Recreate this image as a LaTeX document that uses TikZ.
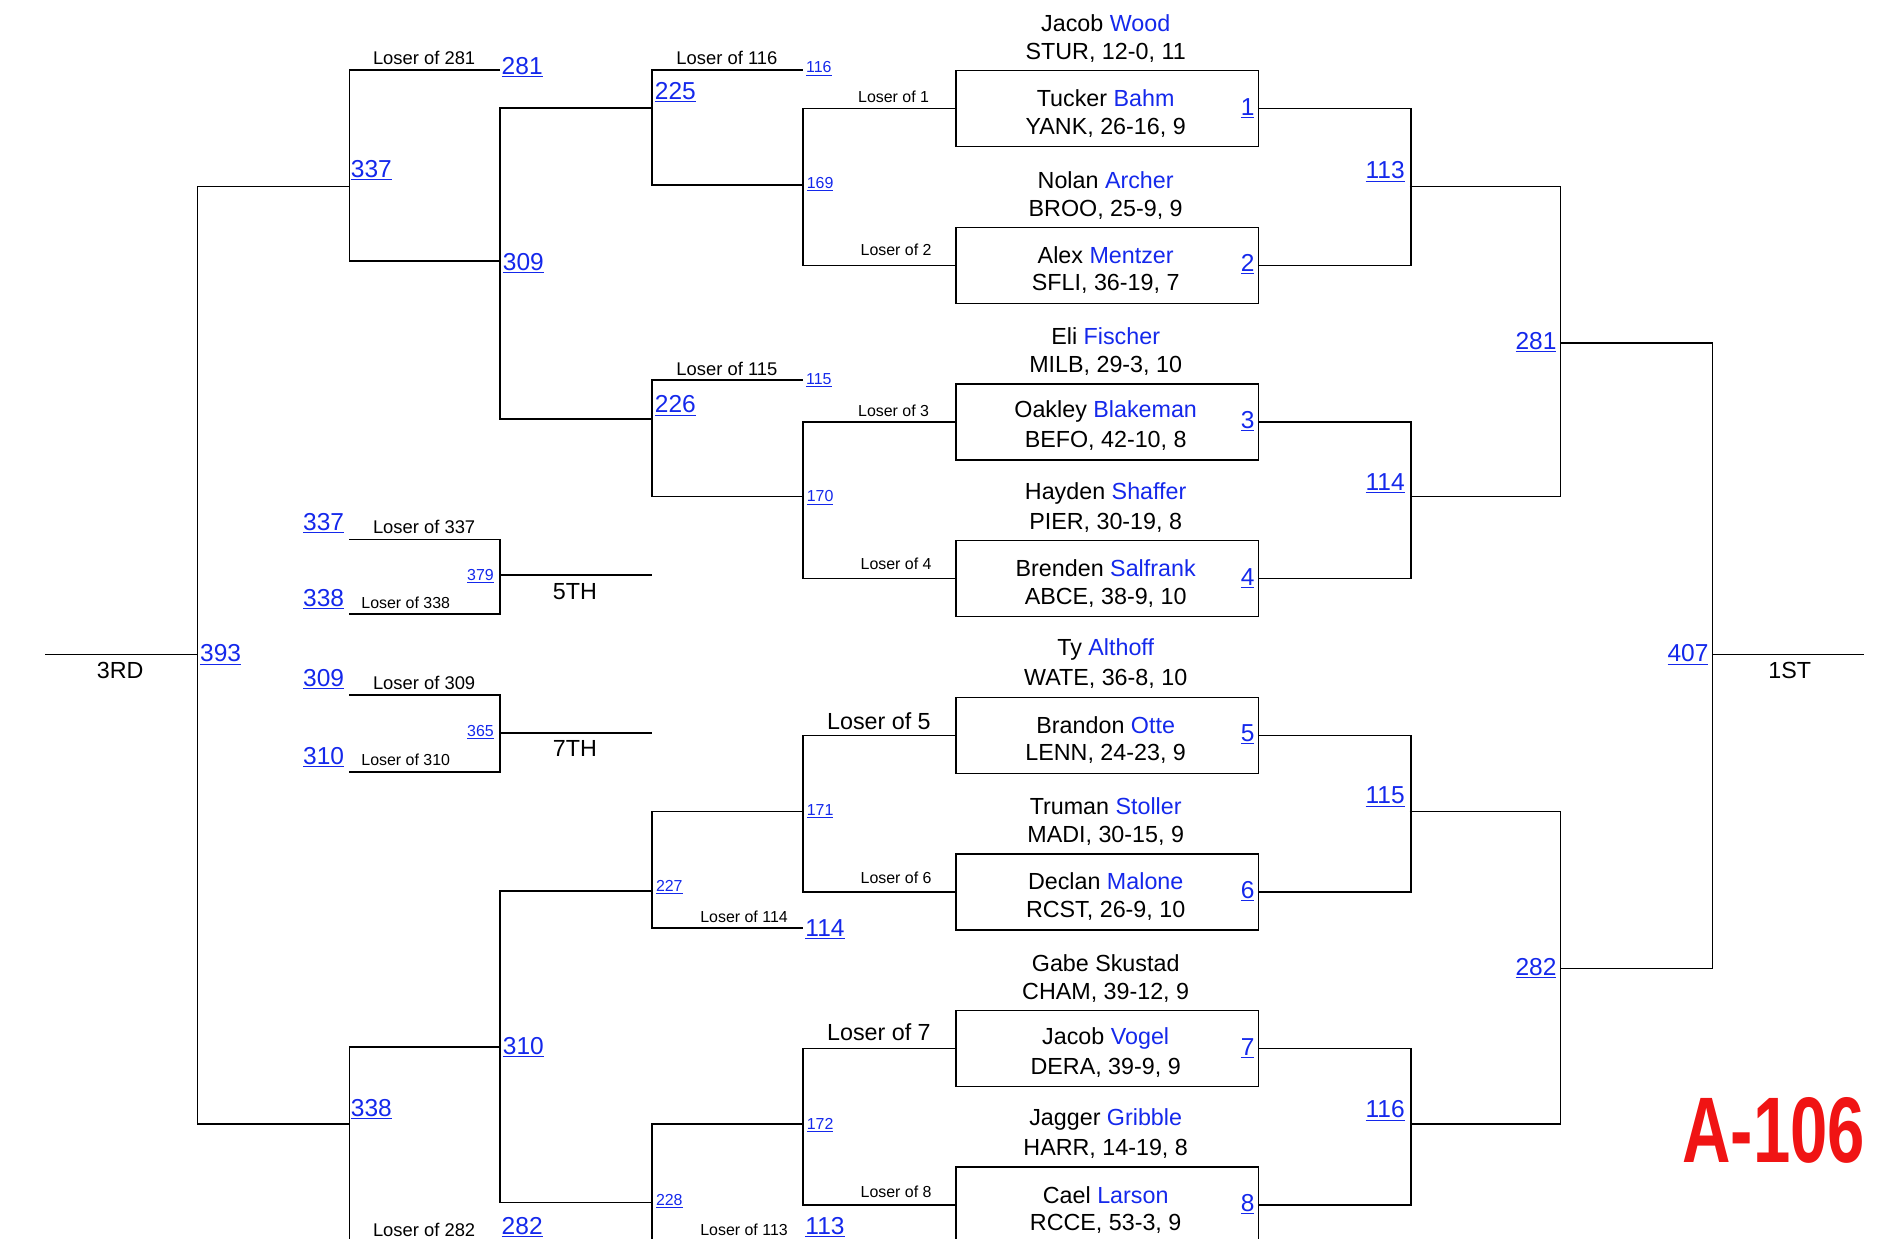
\documentclass[tikz,border=0pt]{standalone}
\usepackage{fontspec}
\setmainfont{Liberation Sans}
\definecolor{linkblue}{RGB}{20,40,235}
\definecolor{tagred}{RGB}{240,20,20}
\newcommand{\lname}[1]{\textcolor{linkblue}{#1}}
\newcommand{\bnum}[1]{\textcolor{linkblue}{\underline{#1}}}
\begin{document}
\begin{tikzpicture}[x=1pt, y=-1pt, line width=1.3pt]
		\tikzset{wrestler/.style={draw=black, line width=1.3pt, minimum width=247pt, minimum height=62pt, anchor=north west, inner sep=0pt}}
		\tikzset{wname/.style={font=\fontsize{19}{21}\selectfont, inner sep=0pt}}
		\tikzset{loser/.style={font=\fontsize{15}{17}\selectfont, inner sep=0pt}}
		\tikzset{loserS/.style={font=\fontsize{13}{15}\selectfont, inner sep=0pt}}
		\tikzset{numL/.style={font=\fontsize{20}{22}\selectfont, inner sep=0pt}}
		\tikzset{numS/.style={font=\fontsize{13}{15}\selectfont, inner sep=0pt}}
		\tikzset{placelbl/.style={font=\fontsize{19}{21}\selectfont, inner sep=0pt}}
		\useasboundingbox (0,0) rectangle (1550,1010);
		%-------------------------------------------------------
		% wrestlers
		\foreach \k/\an/\at/\bn/\bt in {
			1/{Jacob \lname{Wood}}/{STUR, 12-0, 11}/{Tucker \lname{Bahm}}/{YANK, 26-16, 9},
			2/{Nolan \lname{Archer}}/{BROO, 25-9, 9}/{Alex \lname{Mentzer}}/{SFLI, 36-19, 7},
			3/{Eli \lname{Fischer}}/{MILB, 29-3, 10}/{Oakley \lname{Blakeman}}/{BEFO, 42-10, 8},
			4/{Hayden \lname{Shaffer}}/{PIER, 30-19, 8}/{Brenden \lname{Salfrank}}/{ABCE, 38-9, 10},
			5/{Ty \lname{Althoff}}/{WATE, 36-8, 10}/{Brandon \lname{Otte}}/{LENN, 24-23, 9},
			6/{Truman \lname{Stoller}}/{MADI, 30-15, 9}/{Declan \lname{Malone}}/{RCST, 26-9, 10},
			7/{Gabe Skustad}/{CHAM, 39-12, 9}/{Jacob \lname{Vogel}}/{DERA, 39-9, 9},
			8/{Jagger \lname{Gribble}}/{HARR, 14-19, 8}/{Cael \lname{Larson}}/{RCCE, 53-3, 9}}{
			\pgfmathsetmacro{\T}{57+127.8*(\k-1)}
			\node (box\k) [wrestler] at (779,\T) {};
			\node (top\k) [wname] at (902,\T-38) {\an};
			\node (topt\k) [wname] at (902,\T-14) {\at};
			\node (in\k) [wname] at (902,\T+23) {\bn};
			\node (int\k) [wname] at (902,\T+47) {\bt};
			\node (m\k) [numL, anchor=east] at (1024,\T+31) {\bnum{\k}};
		}
		%-------------------------------------------------------
		% championship side
		\draw (box1.east) -- ++(124,0) |- (box2.east);
		\draw (box3.east) -- ++(124,0) |- (box4.east);
		\draw (box5.east) -- ++(124,0) |- (box6.east);
		\draw (box7.east) -- ++(124,0) |- (box8.east);
		\draw (1150,152) -- (1273,152) -- (1273,405) -- (1150,405);
		\draw (1150,662) -- (1273,662) -- (1273,917) -- (1150,917);
		\draw (1273,280) -- (1397,280) -- (1397,790) -- (1273,790);
		\draw (1397,534) -- (1521,534);
		\node (w113) [numL] at (1130,140) {\bnum{113}};
		\node (w114) [numL] at (1130,394) {\bnum{114}};
		\node (w115) [numL] at (1130,650) {\bnum{115}};
		\node (w116) [numL] at (1130,906) {\bnum{116}};
		\node (w281) [numL] at (1253,279) {\bnum{281}};
		\node (w282) [numL] at (1253,790) {\bnum{282}};
		\node (w407) [numL] at (1377,534) {\bnum{407}};
		\node (first) [placelbl] at (1460,547) {1ST};
		%-------------------------------------------------------
		% consolation side
		\draw (box1.west) -- ++(-124,0) |- (box2.west);
		\draw (box3.west) -- ++(-124,0) |- (box4.west);
		\draw (box5.west) -- ++(-124,0) |- (box6.west);
		\draw (box7.west) -- ++(-124,0) |- (box8.west);
		\draw (655,57) -- (532,57) -- (532,151) -- (655,151);
		\draw (655,310) -- (532,310) -- (532,405) -- (655,405);
		\draw (655,662) -- (532,662) -- (532,757) -- (655,757);
		\draw (655,917) -- (532,917) -- (532,1012) -- (655,1012);
		\draw (532,88) -- (408,88) -- (408,342) -- (532,342);
		\draw (532,727) -- (408,727) -- (408,981) -- (532,981);
		\draw (408,57) -- (285,57) -- (285,213) -- (408,213);
		\draw (408,854) -- (285,854) -- (285,1012) -- (408,1012);
		\draw (285,152) -- (161,152) -- (161,917) -- (285,917);
		\draw (161,534) -- (37,534);
		\node (third) [placelbl] at (98,547) {3RD};
		% placement matches
		\draw (285,440) -- (408,440) -- (408,501) -- (285,501);
		\draw (408,469) -- (532,469);
		\draw (285,567) -- (408,567) -- (408,630) -- (285,630);
		\draw (408,598) -- (532,598);
		\node (fifth) [placelbl] at (469,483) {5TH};
		\node (seventh) [placelbl] at (469,611) {7TH};
		%-------------------------------------------------------
		% bout numbers
		\node (c393) [numL] at (180,534) {\bnum{393}};
		\node (c337) [numL] at (303,139) {\bnum{337}};
		\node (c338) [numL] at (303,905) {\bnum{338}};
		\node (c309) [numL] at (427,215) {\bnum{309}};
		\node (c310) [numL] at (427,854) {\bnum{310}};
		\node (c225) [numL] at (551,75) {\bnum{225}};
		\node (c226) [numL] at (551,331) {\bnum{226}};
		\node (c227) [numS] at (546,724) {\bnum{227}};
		\node (c228) [numS] at (546,980) {\bnum{228}};
		\node (c169) [numS] at (669,150) {\bnum{169}};
		\node (c170) [numS] at (669,406) {\bnum{170}};
		\node (c171) [numS] at (669,662) {\bnum{171}};
		\node (c172) [numS] at (669,918) {\bnum{172}};
		\node (f116) [numS] at (668,56) {\bnum{116}};
		\node (f115) [numS] at (668,310) {\bnum{115}};
		\node (f114) [numL] at (673,758) {\bnum{114}};
		\node (f113) [numL] at (673,1001) {\bnum{113}};
		\node (f281) [numL] at (426,55) {\bnum{281}};
		\node (f282) [numL] at (426,1001) {\bnum{282}};
		\node (c379) [numS] at (392,470) {\bnum{379}};
		\node (c365) [numS] at (392,597) {\bnum{365}};
		\node (f337) [numL] at (264,427) {\bnum{337}};
		\node (f338) [numL] at (264,489) {\bnum{338}};
		\node (f309) [numL] at (264,554) {\bnum{309}};
		\node (f310) [numL] at (264,618) {\bnum{310}};
		%-------------------------------------------------------
		% loser labels
		\node (l281) [loser] at (346,47) {Loser of 281};
		\node (l116) [loser] at (593,47) {Loser of 116};
		\node (l115) [loser] at (593,301) {Loser of 115};
		\node (l1) [loserS] at (729,79) {Loser of 1};
		\node (l2) [loserS] at (731,204) {Loser of 2};
		\node (l3) [loserS] at (729,335) {Loser of 3};
		\node (l4) [loserS] at (731,460) {Loser of 4};
		\node (l5) [wname] at (717,588) {Loser of 5};
		\node (l6) [loserS] at (731,716) {Loser of 6};
		\node (l7) [wname] at (717,842) {Loser of 7};
		\node (l8) [loserS] at (731,972) {Loser of 8};
		\node (l114) [loserS] at (607,748) {Loser of 114};
		\node (l113) [loserS] at (607,1003) {Loser of 113};
		\node (l282) [loser] at (346,1003) {Loser of 282};
		\node (l337) [loser] at (346,430) {Loser of 337};
		\node (l338) [loserS] at (331,492) {Loser of 338};
		\node (l309) [loser] at (346,557) {Loser of 309};
		\node (l310) [loserS] at (331,620) {Loser of 310};
		%-------------------------------------------------------
		\node (tag) [inner sep=0pt, text=tagred, xscale=0.72, font=\fontsize{76}{80}\selectfont\bfseries] at (1447,922) {A-106};
\end{tikzpicture}
\end{document}
